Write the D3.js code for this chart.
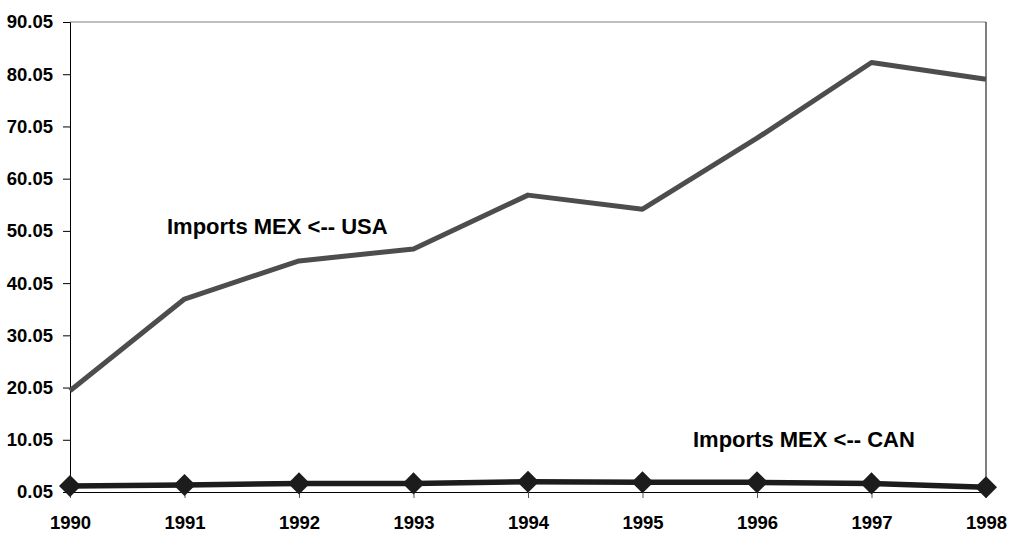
<!DOCTYPE html>
<html>
<head>
<meta charset="utf-8">
<script src="https://cdn.jsdelivr.net/npm/d3@7"></script>
<style>
  body { margin: 0; background: #fff; }
  text { font-family: "Liberation Sans", Arial, sans-serif; font-weight: bold; fill: #000; }
</style>
</head>
<body>
<div id="chart"></div>
<script>
const years = [1990, 1991, 1992, 1993, 1994, 1995, 1996, 1997, 1998];
const importsUSA = [19.45, 37.0, 44.3, 46.6, 56.9, 54.2, 67.8, 82.3, 79.1];
const importsCAN = [1.2, 1.4, 1.7, 1.7, 2.0, 1.9, 1.9, 1.7, 0.95];
const yTicks = [0.05, 10.05, 20.05, 30.05, 40.05, 50.05, 60.05, 70.05, 80.05, 90.05];

const W = 1009, H = 534;
const margin = { top: 22, right: 23, bottom: 42, left: 70 };

const svg = d3.select("#chart")
  .append("svg")
  .attr("width", W)
  .attr("height", H);

const x = d3.scalePoint()
  .domain(years)
  .range([margin.left, W - margin.right]);

const y = d3.scaleLinear()
  .domain([0.05, 90.05])
  .range([H - margin.bottom, margin.top]);

// plot frame: gray top, black right
svg.append("line")
  .attr("x1", x(1990)).attr("x2", x(1998))
  .attr("y1", y(90.05)).attr("y2", y(90.05))
  .attr("stroke", "#808080").attr("stroke-width", 1);
svg.append("line")
  .attr("x1", x(1998)).attr("x2", x(1998))
  .attr("y1", y(90.05)).attr("y2", y(0.05))
  .attr("stroke", "#000").attr("stroke-width", 1);

// y axis
const yAxis = svg.append("g")
  .attr("transform", `translate(${margin.left},0)`)
  .call(d3.axisLeft(y).tickValues(yTicks).tickFormat(d3.format(".2f")).tickSize(7).tickPadding(10));
yAxis.select(".domain").attr("stroke", "#000");
yAxis.selectAll("line").attr("stroke", "#000");
yAxis.selectAll("text")
  .attr("font-size", "18.5px")
  .attr("font-family", "Liberation Sans, Arial, sans-serif")
  .attr("font-weight", "bold")
  .attr("fill", "#000");

// x axis
const xAxis = svg.append("g")
  .attr("transform", `translate(0,${H - margin.bottom})`)
  .call(d3.axisBottom(x).tickSizeOuter(0).tickSize(6).tickPadding(18));
xAxis.select(".domain").attr("stroke", "#000");
xAxis.selectAll("line").attr("stroke", "#555");
xAxis.selectAll("text")
  .attr("font-size", "18.5px")
  .attr("font-family", "Liberation Sans, Arial, sans-serif")
  .attr("font-weight", "bold")
  .attr("fill", "#000");

const line = d3.line()
  .x((d, i) => x(years[i]))
  .y(d => y(d));

// USA series
svg.append("path")
  .datum(importsUSA)
  .attr("fill", "none")
  .attr("stroke", "#4d4d4d")
  .attr("stroke-width", 5)
  .attr("stroke-linejoin", "round")
  .attr("d", line);

// CAN series
svg.append("path")
  .datum(importsCAN)
  .attr("fill", "none")
  .attr("stroke", "#1c1c1c")
  .attr("stroke-width", 5.5)
  .attr("d", line);

const diamond = d3.symbol().type(d3.symbolSquare).size(15.6 * 15.6);
svg.selectAll(".marker")
  .data(importsCAN)
  .join("path")
  .attr("class", "marker")
  .attr("d", diamond)
  .attr("fill", "#1c1c1c")
  .attr("transform", (d, i) => `translate(${x(years[i])},${y(d)}) rotate(45)`);

// series labels
svg.append("text")
  .attr("x", 167)
  .attr("y", 234)
  .attr("font-size", "22px")
  .text("Imports MEX <-- USA");

svg.append("text")
  .attr("x", 693)
  .attr("y", 447)
  .attr("font-size", "22px")
  .text("Imports MEX <-- CAN");
</script>
</body>
</html>
